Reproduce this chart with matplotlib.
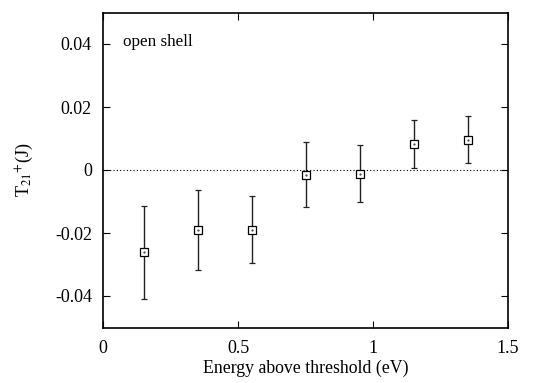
import matplotlib
matplotlib.use("Agg")
import matplotlib.pyplot as plt
import numpy as np

plt.rcParams['font.family'] = ['Liberation Serif', 'DejaVu Serif']
plt.rcParams['mathtext.fontset'] = 'stix'

energy = [0.15, 0.35, 0.55, 0.75, 0.95, 1.15, 1.35]
t21 = [-0.0261, -0.0190, -0.0190, -0.0015, -0.0012, 0.0083, 0.0096]
err_top = [-0.0113, -0.0063, -0.0084, 0.0089, 0.0079, 0.0160, 0.0171]
err_bottom = [-0.0411, -0.0316, -0.0295, -0.0117, -0.0101, 0.0005, 0.0021]

xticks = [0, 0.5, 1, 1.5]
xticklabels = ['0', '0.5', '1', '1.5']
yticks = [-0.04, -0.02, 0, 0.02, 0.04]
yticklabels = ['-0.04', '-0.02', '0', '0.02', '0.04']

fig = plt.figure(figsize=(5.45, 3.83), dpi=100)
ax = fig.add_axes([103/545, 1 - 327.5/383, 405/545, 315/383])

t = np.array(t21)
lower = t - np.array(err_bottom)
upper = np.array(err_top) - t
ax.axhline(0, color='black', lw=0.8, ls=(0, (1, 2)))
ax.errorbar(energy, t21, yerr=[lower, upper], fmt='s', mfc='white', mec='black',
            mew=0.9, ms=6, ecolor='#222222', elinewidth=1.0, capsize=2.5, capthick=1.0,
            color='black', zorder=3)
ax.plot(energy, t21, ls='none', marker='.', ms=1.2, color='#444444', zorder=4)

ax.set_xlim(0, 1.5)
ax.set_ylim(-0.05, 0.05)
ax.set_xticks(xticks)
ax.set_xticklabels(xticklabels)
ax.set_yticks(yticks)
ax.set_yticklabels(yticklabels)
ax.tick_params(direction='in', top=True, right=True, length=5, width=0.8, labelsize=13)
ax.tick_params(axis='x', pad=9)
ax.tick_params(axis='y', pad=8)
for s in ax.spines.values():
    s.set_linewidth(1.2)

ax.set_xlabel('Energy above threshold (eV)', fontsize=12.8, labelpad=2)
ax.set_ylabel(r'T$_{21}$$^{+}$(J)', fontsize=13, labelpad=14)
ax.text(0.05, 0.905, 'open shell', transform=ax.transAxes, fontsize=12.3, va='center', ha='left')

fig.savefig('out.png', dpi=100)
